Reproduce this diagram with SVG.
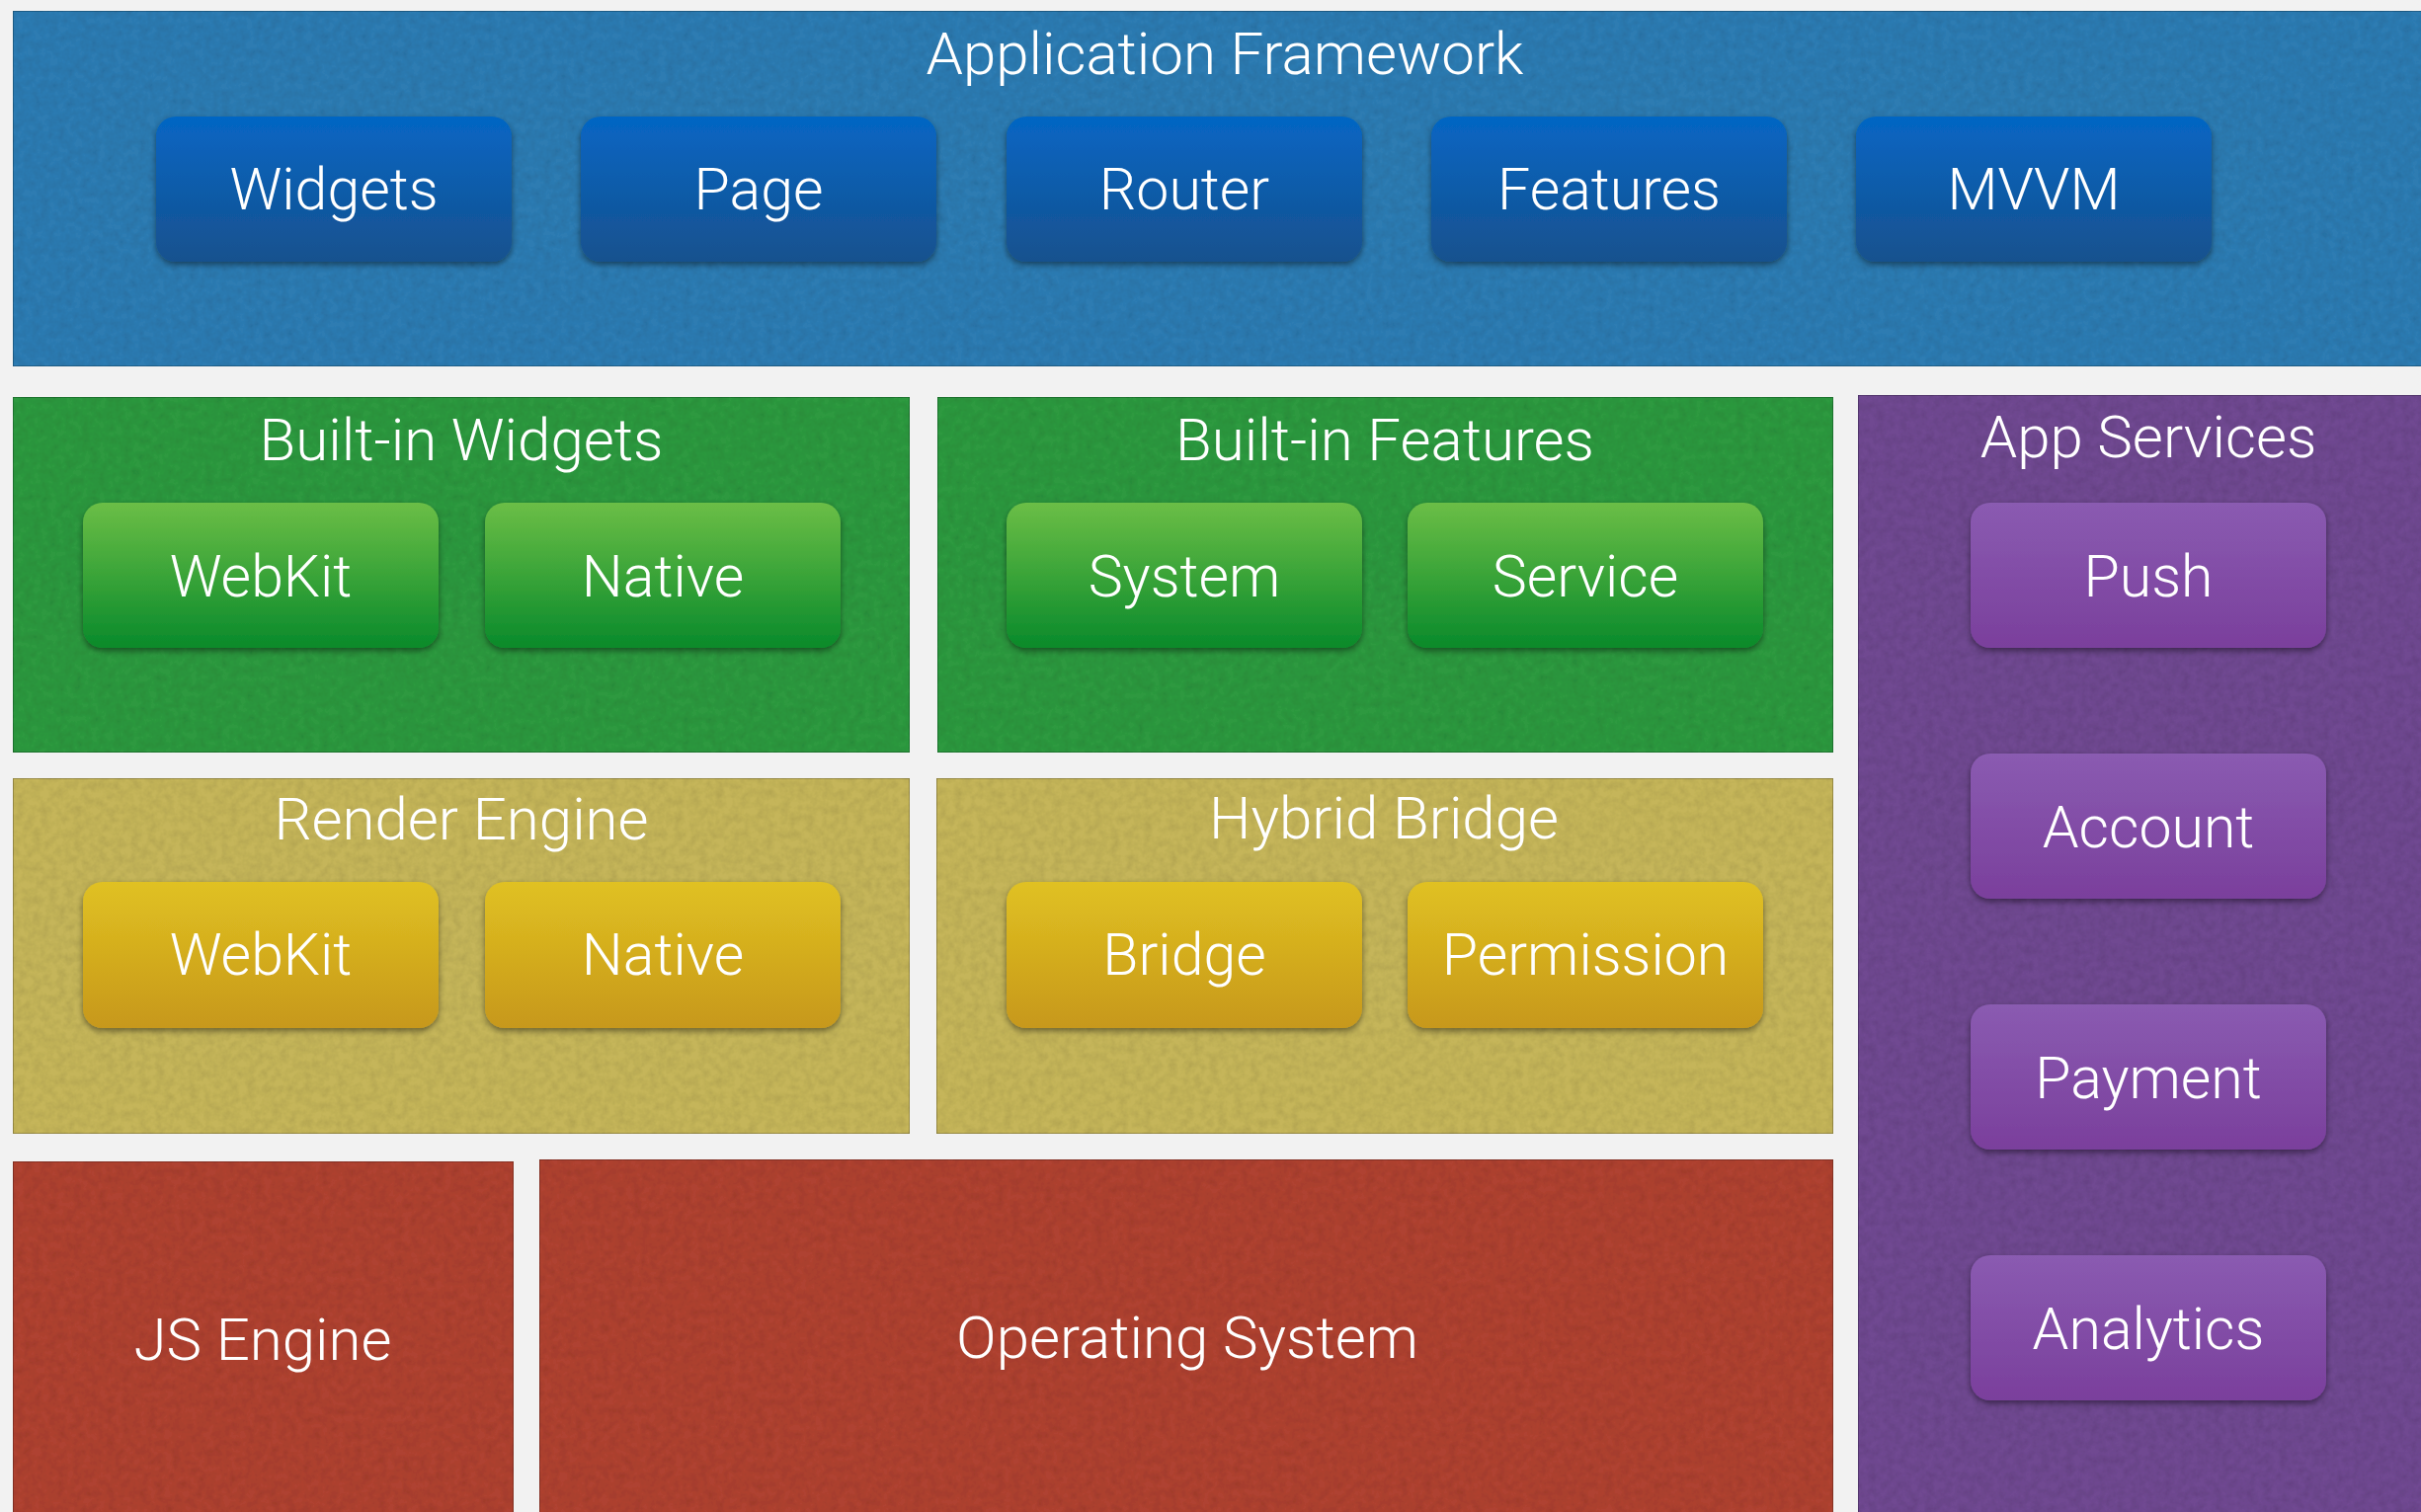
<svg xmlns="http://www.w3.org/2000/svg" width="2451" height="1531" viewBox="0 0 2451 1531">
<defs>
<style>
text{font-family:Roboto,"Liberation Sans",sans-serif;font-weight:300;fill:#ffffff;text-anchor:middle}
.t{font-size:60px}
.b{font-size:59px}
.panel{stroke:rgba(0,0,0,0.3);stroke-width:1.5}
.btn{filter:url(#sh)}
</style>
<linearGradient id="gBlue" x1="0" y1="0" x2="0" y2="1"><stop offset="0" stop-color="#0566c4"/><stop offset="1" stop-color="#17518e"/></linearGradient>
<linearGradient id="gGreen" x1="0" y1="0" x2="0" y2="1"><stop offset="0" stop-color="#6bbe46"/><stop offset="1" stop-color="#098a2b"/></linearGradient>
<linearGradient id="gYellow" x1="0" y1="0" x2="0" y2="1"><stop offset="0" stop-color="#e0c122"/><stop offset="1" stop-color="#c7981a"/></linearGradient>
<linearGradient id="gPurple" x1="0" y1="0" x2="0" y2="1"><stop offset="0" stop-color="#8a5bb1"/><stop offset="1" stop-color="#7a3f9c"/></linearGradient>
<filter id="sh" x="-10%" y="-10%" width="120%" height="130%">
<feDropShadow dx="0" dy="3" stdDeviation="3" flood-color="#000" flood-opacity="0.45"/>
</filter>
<filter id="paper" x="0" y="0" width="100%" height="100%">
<feTurbulence type="fractalNoise" baseFrequency="0.12" numOctaves="3" seed="7" result="n"/>
<feColorMatrix in="n" type="matrix" values="0 0 0 0 0  0 0 0 0 0  0 0 0 0 0  0 0 0 -0.3 0.2" result="a"/>
<feComposite in="a" in2="SourceGraphic" operator="in" result="d"/>
<feMerge><feMergeNode in="SourceGraphic"/><feMergeNode in="d"/></feMerge>
</filter>
</defs>
<rect x="0" y="0" width="2451" height="1531" fill="#f2f2f2"/>

<g id="application-framework">
<rect class="panel" x="13" y="11" width="2440" height="360" fill="#2e7cb2" filter="url(#paper)"/>
<text class="t" x="1240" y="75">Application Framework</text>
</g>
<g id="af-widgets"><rect class="btn" x="158" y="118" width="360" height="147" rx="20" fill="url(#gBlue)"/><text class="b" x="338" y="212">Widgets</text></g>
<g id="af-page"><rect class="btn" x="588" y="118" width="360" height="147" rx="20" fill="url(#gBlue)"/><text class="b" x="768" y="212">Page</text></g>
<g id="af-router"><rect class="btn" x="1019" y="118" width="360" height="147" rx="20" fill="url(#gBlue)"/><text class="b" x="1199" y="212">Router</text></g>
<g id="af-features"><rect class="btn" x="1449" y="118" width="360" height="147" rx="20" fill="url(#gBlue)"/><text class="b" x="1629" y="212">Features</text></g>
<g id="af-mvvm"><rect class="btn" x="1879" y="118" width="360" height="147" rx="20" fill="url(#gBlue)"/><text class="b" x="2059" y="212">MVVM</text></g>

<g id="built-in-widgets">
<rect class="panel" x="13" y="402" width="908" height="360" fill="#2e9941" filter="url(#paper)"/>
<text class="t" x="467" y="466">Built-in Widgets</text>
</g>
<g id="biw-webkit"><rect class="btn" x="84" y="509" width="360" height="147" rx="20" fill="url(#gGreen)"/><text class="b" x="264" y="604">WebKit</text></g>
<g id="biw-native"><rect class="btn" x="491" y="509" width="360" height="147" rx="20" fill="url(#gGreen)"/><text class="b" x="671" y="604">Native</text></g>

<g id="built-in-features">
<rect class="panel" x="949" y="402" width="907" height="360" fill="#2e9941" filter="url(#paper)"/>
<text class="t" x="1402" y="466">Built-in Features</text>
</g>
<g id="bif-system"><rect class="btn" x="1019" y="509" width="360" height="147" rx="20" fill="url(#gGreen)"/><text class="b" x="1199" y="604">System</text></g>
<g id="bif-service"><rect class="btn" x="1425" y="509" width="360" height="147" rx="20" fill="url(#gGreen)"/><text class="b" x="1605" y="604">Service</text></g>

<g id="app-services">
<rect class="panel" x="1881" y="400" width="572" height="1133" fill="#6f4a91" filter="url(#paper)"/>
<text class="t" x="2175" y="463">App Services</text>
</g>
<g id="as-push"><rect class="btn" x="1995" y="509" width="360" height="147" rx="20" fill="url(#gPurple)"/><text class="b" x="2175" y="604">Push</text></g>
<g id="as-account"><rect class="btn" x="1995" y="763" width="360" height="147" rx="20" fill="url(#gPurple)"/><text class="b" x="2175" y="858">Account</text></g>
<g id="as-payment"><rect class="btn" x="1995" y="1017" width="360" height="147" rx="20" fill="url(#gPurple)"/><text class="b" x="2175" y="1112">Payment</text></g>
<g id="as-analytics"><rect class="btn" x="1995" y="1271" width="360" height="147" rx="20" fill="url(#gPurple)"/><text class="b" x="2175" y="1366">Analytics</text></g>

<g id="render-engine">
<rect class="panel" x="13" y="788" width="908" height="360" fill="#c5b55a" filter="url(#paper)"/>
<text class="t" x="467" y="850">Render Engine</text>
</g>
<g id="re-webkit"><rect class="btn" x="84" y="893" width="360" height="148" rx="20" fill="url(#gYellow)"/><text class="b" x="264" y="987">WebKit</text></g>
<g id="re-native"><rect class="btn" x="491" y="893" width="360" height="148" rx="20" fill="url(#gYellow)"/><text class="b" x="671" y="987">Native</text></g>

<g id="hybrid-bridge">
<rect class="panel" x="948" y="788" width="908" height="360" fill="#c5b55a" filter="url(#paper)"/>
<text class="t" x="1401" y="849">Hybrid Bridge</text>
</g>
<g id="hb-bridge"><rect class="btn" x="1019" y="893" width="360" height="148" rx="20" fill="url(#gYellow)"/><text class="b" x="1199" y="987">Bridge</text></g>
<g id="hb-permission"><rect class="btn" x="1425" y="893" width="360" height="148" rx="20" fill="url(#gYellow)"/><text class="b" x="1605" y="987">Permission</text></g>

<g id="js-engine">
<rect class="panel" x="13" y="1176" width="507" height="357" fill="#af4332" filter="url(#paper)"/>
<text class="t" x="266" y="1377">JS Engine</text>
</g>
<g id="operating-system">
<rect class="panel" x="546" y="1174" width="1310" height="359" fill="#af4332" filter="url(#paper)"/>
<text class="t" x="1202" y="1375">Operating System</text>
</g>

<g id="connectors"></g>
</svg>
